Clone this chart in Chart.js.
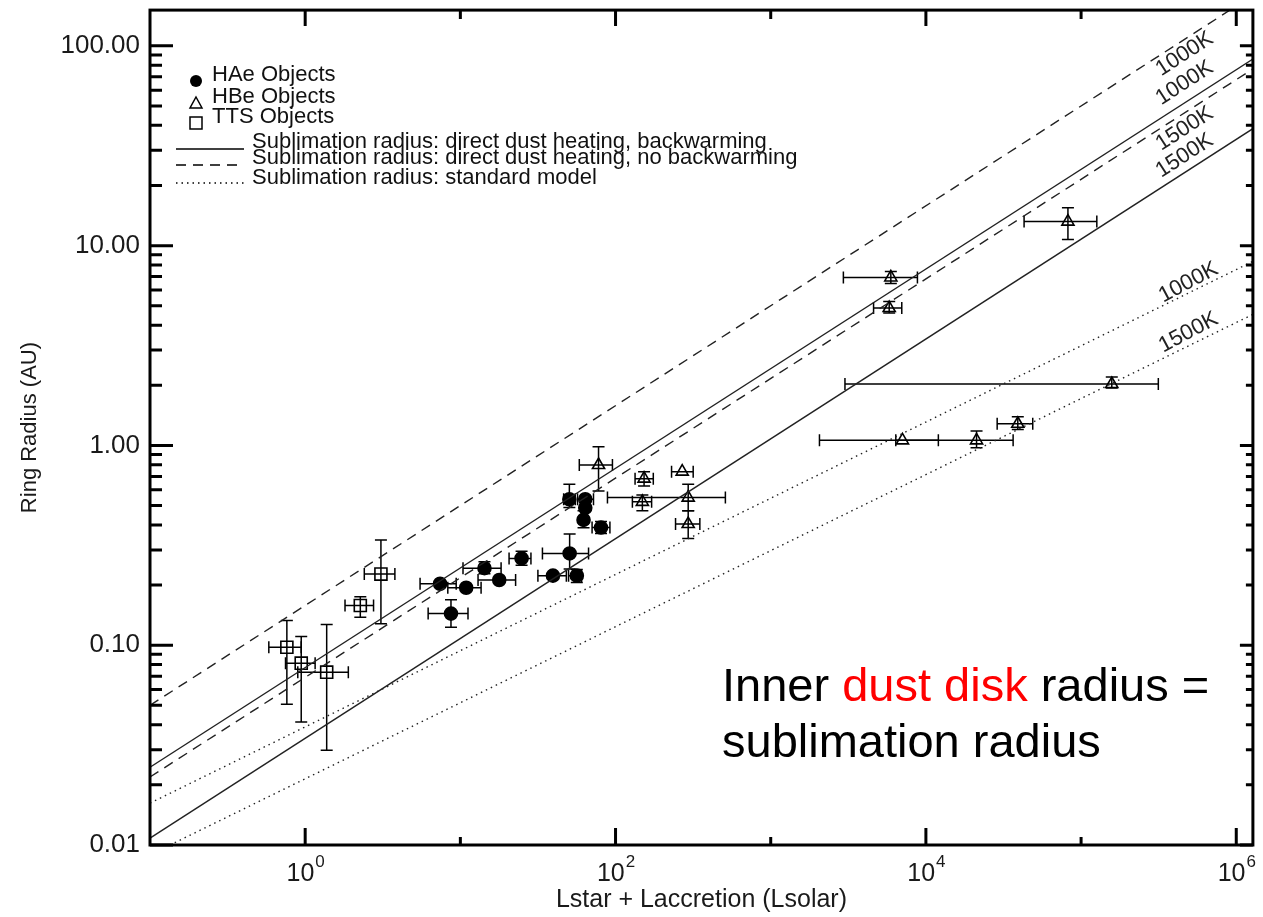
<!DOCTYPE html>
<html>
<head>
<meta charset="utf-8">
<script src="https://cdn.jsdelivr.net/npm/chart.js@4.4.1/dist/chart.umd.min.js"></script>
<style>
  html, body { margin: 0; padding: 0; background: #fff; }
</style>
</head>
<body>
<canvas id="ringChart" width="1263" height="917"></canvas>
<script>
const FONT = "'Liberation Sans', Arial, sans-serif";

// HAe objects: luminosity, ring radius, and error ranges (null = no bar)
const haeL   = [7.4, 10.9, 8.7, 14.3, 17.8, 24.8, 50.6, 39.5, 56.3, 50.4, 63.8, 63.8, 62.2, 80.6];
const haeR   = [0.203, 0.194, 0.144, 0.243, 0.212, 0.272, 0.288, 0.223, 0.223, 0.538, 0.538, 0.487, 0.424, 0.388];
const haeLlo = [5.5, 8.3, 6.2, 10.4, 13.0, 20.6, 33.8, 31.6, 49.8, 46.3, 56.9, null, null, 70.6];
const haeLhi = [9.4, 13.6, 11.2, 18.3, 22.7, 28.5, 67.0, 48.2, 60.4, 55.0, 72.1, null, null, 92.0];
const haeRlo = [null, null, 0.123, 0.228, null, 0.251, 0.241, null, 0.206, 0.489, null, null, 0.387, 0.362];
const haeRhi = [null, null, 0.169, 0.262, null, 0.295, 0.360, null, 0.239, 0.639, null, null, 0.471, 0.416];

// HBe objects
const hbeL   = [77.7, 152.7, 268.9, 148.9, 293.9, 293.9, 5943, 5801, 82270, 157700, 7063, 21200, 39100];
const hbeR   = [0.798, 0.682, 0.739, 0.522, 0.548, 0.404, 6.93, 4.87, 13.19, 2.03, 1.06, 1.06, 1.284];
const hbeLlo = [58.4, 133.6, 229.6, 128.4, 88.7, 243.6, 2939, 4600, 42920, 3009, 2061, 6397, 28790];
const hbeLhi = [95.5, 175.1, 316.5, 170.8, 510.3, 349.4, 8818, 6991, 126300, 314600, 12030, 36480, 48810];
const hbeRlo = [0.592, 0.627, null, 0.471, 0.471, 0.342, 6.47, 4.60, 10.73, 1.94, null, 0.974, 1.203];
const hbeRhi = [0.985, 0.739, null, 0.565, 0.639, 0.471, 7.43, 5.26, 15.49, 2.20, null, 1.18, 1.391];

// TTS objects
const ttsL   = [0.762, 0.943, 1.376, 2.266, 3.077];
const ttsR   = [0.0977, 0.0813, 0.0733, 0.158, 0.227];
const ttsLlo = [0.583, 0.747, 0.896, 1.806, 2.404];
const ttsLhi = [0.943, 1.159, 1.897, 2.758, 3.785];
const ttsRlo = [0.0506, 0.0413, 0.0298, 0.138, 0.128];
const ttsRhi = [0.1328, 0.1105, 0.1269, 0.175, 0.336];

// sublimation radius lines, end points at L = 0.1 and L = 1.28e6
const lineL          = [0.1, 1.28e6];
const backwarm1000   = [0.0245, 85.9];
const backwarm1500   = [0.01083, 38.5];
const noBackwarm1000 = [0.050, 179];
const noBackwarm1500 = [0.0219, 76.6];
const standard1000   = [0.0162, 8.34];
const standard1500   = [0.00893, 4.53];

// line labels: text, L, R, angle (deg)
const lineLabelText  = ['1000K', '1000K', '1500K', '1500K', '1000K', '1500K'];
const lineLabelL     = [4.64e5, 4.64e5, 4.64e5, 4.64e5, 4.92e5, 4.92e5];
const lineLabelR     = [91, 65.2, 38.5, 28.2, 6.55, 3.68];
const lineLabelAngle = [-33, -33, -33, -33, -28, -28];

// ticks
const xTickValues = [1, 10, 100, 1000, 10000, 100000, 1000000];
const xTickExponents = ['0', '', '2', '', '4', '', '6'];
const yMajorTicks = [0.01, 0.1, 1, 10, 100];
const yTickLabels = ['0.01', '0.10', '1.00', '10.00', '100.00'];

const yTickValues = [];
yMajorTicks.forEach(d => {
  yTickValues.push(d);
  if (d < 100) for (let k = 2; k <= 9; k++) yTickValues.push(Number((k * d).toPrecision(2)));
});

function pts(L, R) {
  return L.map((l, i) => ({ x: l, y: R[i] }));
}

function lineSet(R, dash) {
  return {
    type: 'line', data: pts(lineL, R), showLine: true, borderColor: '#222',
    borderWidth: 1.4, borderDash: dash, pointRadius: 0, fill: false, tension: 0
  };
}

function markerSet(label, L, R, style, radius, fill) {
  return {
    type: 'scatter', label, data: pts(L, R), pointStyle: style, pointRadius: radius,
    pointBackgroundColor: fill, pointBorderColor: '#000', pointBorderWidth: 1.6
  };
}

function drawErrors(ctx, xs, ys, L, R, Llo, Lhi, Rlo, Rhi) {
  const cap = 6;
  L.forEach((l, i) => {
    const px = xs.getPixelForValue(l), py = ys.getPixelForValue(R[i]);
    ctx.beginPath();
    if (Llo[i] != null) {
      const a = xs.getPixelForValue(Llo[i]), b = xs.getPixelForValue(Lhi[i]);
      ctx.moveTo(a, py); ctx.lineTo(b, py);
      ctx.moveTo(a, py - cap); ctx.lineTo(a, py + cap);
      ctx.moveTo(b, py - cap); ctx.lineTo(b, py + cap);
    }
    if (Rlo[i] != null) {
      const a = ys.getPixelForValue(Rlo[i]), b = ys.getPixelForValue(Rhi[i]);
      ctx.moveTo(px, a); ctx.lineTo(px, b);
      ctx.moveTo(px - cap, a); ctx.lineTo(px + cap, a);
      ctx.moveTo(px - cap, b); ctx.lineTo(px + cap, b);
    }
    ctx.stroke();
  });
}

const decorPlugin = {
  id: 'decor',
  beforeDatasetsDraw(chart) {
    const { ctx, chartArea: ca } = chart;
    const xs = chart.scales.x, ys = chart.scales.y;
    ctx.save();
    ctx.beginPath();
    ctx.rect(ca.left, ca.top, ca.right - ca.left, ca.bottom - ca.top);
    ctx.clip();
    ctx.strokeStyle = '#000';
    ctx.lineWidth = 1.5;
    drawErrors(ctx, xs, ys, haeL, haeR, haeLlo, haeLhi, haeRlo, haeRhi);
    drawErrors(ctx, xs, ys, hbeL, hbeR, hbeLlo, hbeLhi, hbeRlo, hbeRhi);
    drawErrors(ctx, xs, ys, ttsL, ttsR, ttsLlo, ttsLhi, ttsRlo, ttsRhi);
    ctx.restore();
  },
  afterDraw(chart) {
    const { ctx, chartArea: ca } = chart;
    const xs = chart.scales.x, ys = chart.scales.y;
    ctx.save();

    // frame and inward ticks
    ctx.strokeStyle = '#000';
    ctx.lineWidth = 3;
    ctx.strokeRect(ca.left, ca.top, ca.right - ca.left, ca.bottom - ca.top);
    ctx.beginPath();
    ys.ticks.forEach(t => {
      const major = yMajorTicks.includes(t.value);
      const py = ys.getPixelForValue(t.value);
      ctx.moveTo(ca.left, py); ctx.lineTo(ca.left + (major ? 23 : 12), py);
      ctx.moveTo(ca.right, py); ctx.lineTo(ca.right - (major ? 13 : 7), py);
    });
    xTickValues.forEach((v, i) => {
      const major = xTickExponents[i] !== '';
      const px = xs.getPixelForValue(v);
      ctx.moveTo(px, ca.bottom); ctx.lineTo(px, ca.bottom - (major ? 17 : 8));
      ctx.moveTo(px, ca.top); ctx.lineTo(px, ca.top + (major ? 16 : 9));
    });
    ctx.stroke();

    // x tick labels with superscript exponents
    ctx.fillStyle = '#1a1a1a';
    ctx.textBaseline = 'alphabetic';
    ctx.textAlign = 'left';
    xTickValues.forEach((v, i) => {
      if (!xTickExponents[i]) return;
      const px = xs.getPixelForValue(v);
      ctx.font = '25px ' + FONT;
      const w1 = ctx.measureText('10').width;
      ctx.font = '17px ' + FONT;
      const w2 = ctx.measureText(xTickExponents[i]).width;
      const x0 = px - (w1 + w2) / 2;
      ctx.font = '25px ' + FONT;
      ctx.fillText('10', x0, ca.bottom + 36);
      ctx.font = '17px ' + FONT;
      ctx.fillText(xTickExponents[i], x0 + w1 + 1, ca.bottom + 22);
    });

    // labels along the sublimation lines
    ctx.font = '22px ' + FONT;
    ctx.textAlign = 'center';
    ctx.textBaseline = 'middle';
    ctx.fillStyle = '#222';
    lineLabelText.forEach((t, i) => {
      ctx.save();
      ctx.translate(xs.getPixelForValue(lineLabelL[i]), ys.getPixelForValue(lineLabelR[i]));
      ctx.rotate(lineLabelAngle[i] * Math.PI / 180);
      ctx.fillText(t, 0, 0);
      ctx.restore();
    });

    // legend
    ctx.textAlign = 'left';
    ctx.textBaseline = 'alphabetic';
    ctx.strokeStyle = '#000';
    ctx.lineWidth = 1.5;
    ctx.beginPath(); ctx.arc(196, 81, 6, 0, Math.PI * 2); ctx.fillStyle = '#000'; ctx.fill();
    ctx.beginPath(); ctx.moveTo(196, 97); ctx.lineTo(202, 108); ctx.lineTo(190, 108); ctx.closePath(); ctx.stroke();
    ctx.strokeRect(190, 117, 12, 12);
    ctx.font = '22px ' + FONT;
    ctx.fillStyle = '#111';
    ctx.fillText('HAe Objects', 212, 81);
    ctx.fillText('HBe Objects', 212, 103);
    ctx.fillText('TTS Objects', 212, 123);
    const legLines = [[[], 149, 'Sublimation radius: direct dust heating, backwarming'],
                      [[10, 7], 165, 'Sublimation radius: direct dust heating, no backwarming'],
                      [[1.5, 4], 183, 'Sublimation radius: standard model']];
    const legTextY = [148, 164, 184];
    legLines.forEach((d, i) => {
      ctx.setLineDash(d[0]);
      ctx.beginPath(); ctx.moveTo(176, d[1]); ctx.lineTo(244, d[1]); ctx.stroke();
      ctx.setLineDash([]);
      ctx.fillText(d[2], 252, legTextY[i]);
    });

    // annotation
    ctx.font = '47px ' + FONT;
    let x = 722;
    const parts = [['Inner ', '#000'], ['dust disk', '#ff0000'], [' radius =', '#000']];
    parts.forEach(p => {
      ctx.fillStyle = p[1];
      ctx.fillText(p[0], x, 701);
      x += ctx.measureText(p[0]).width;
    });
    ctx.fillStyle = '#000';
    ctx.fillText('sublimation radius', 722, 757);

    ctx.restore();
  }
};

new Chart(document.getElementById('ringChart'), {
  type: 'scatter',
  data: {
    datasets: [
      lineSet(noBackwarm1000, [10, 7]),
      lineSet(noBackwarm1500, [10, 7]),
      lineSet(backwarm1000, []),
      lineSet(backwarm1500, []),
      lineSet(standard1000, [1.5, 4]),
      lineSet(standard1500, [1.5, 4]),
      markerSet('HAe Objects', haeL, haeR, 'circle', 6.5, '#000'),
      markerSet('HBe Objects', hbeL, hbeR, 'triangle', 7, 'rgba(255,255,255,0)'),
      markerSet('TTS Objects', ttsL, ttsR, 'rect', 8.5, 'rgba(255,255,255,0)')
    ]
  },
  options: {
    responsive: false,
    devicePixelRatio: 1,
    animation: false,
    events: [],
    layout: { padding: { top: 8, right: 6, bottom: 0, left: 0 } },
    plugins: { legend: { display: false }, tooltip: { enabled: false } },
    scales: {
      x: {
        type: 'logarithmic', min: 0.1, max: 1.28e6,
        afterBuildTicks: s => { s.ticks = xTickValues.map(v => ({ value: v })); },
        afterFit: s => { s.height = 72; s.paddingLeft = 0; s.paddingRight = 0; },
        grid: { display: false, drawTicks: false },
        border: { display: false },
        ticks: { display: false },
        title: {
          display: true, text: 'Lstar + Laccretion (Lsolar)', color: '#1a1a1a',
          font: { family: FONT, size: 25 }, padding: { top: 0, bottom: 2 }
        }
      },
      y: {
        type: 'logarithmic', min: 0.01, max: 151,
        afterBuildTicks: s => { s.ticks = yTickValues.map(v => ({ value: v })); },
        afterFit: s => { s.width = 150; s.paddingTop = 0; s.paddingBottom = 0; },
        grid: { display: false, drawTicks: false },
        border: { display: false },
        ticks: {
          autoSkip: false, padding: 10, color: '#1a1a1a',
          font: { family: FONT, size: 26 },
          callback: v => {
            const i = yMajorTicks.indexOf(v);
            return i >= 0 ? yTickLabels[i] : '';
          }
        },
        title: {
          display: true, text: 'Ring Radius (AU)', color: '#1a1a1a',
          font: { family: FONT, size: 22 }, padding: { top: 17, bottom: 0 }
        }
      }
    }
  },
  plugins: [decorPlugin]
});
</script>
</body>
</html>
